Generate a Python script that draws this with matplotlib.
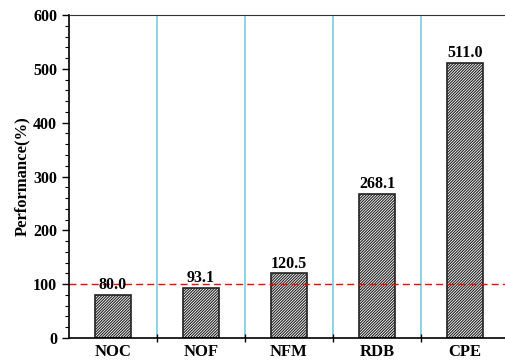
import numpy as np
import matplotlib.pyplot as plt
from matplotlib.ticker import MultipleLocator, FixedLocator

# データ
categories = ['NOC', 'NOF', 'NFM', 'RDB', 'CPE']
performance = [80.0, 93.1, 120.5, 268.1, 511.0]
baseline = 100

plt.rcParams['font.family'] = ['Liberation Serif', 'DejaVu Serif']
plt.rcParams['font.weight'] = 'bold'
plt.rcParams['hatch.linewidth'] = 0.8

fig = plt.figure(figsize=(5.05, 3.61), dpi=100)
ax = fig.add_axes([0.1366, 0.0637, 0.8714, 0.8947])

x = np.arange(len(categories))
bars = ax.bar(x, performance, width=0.41, color='white', edgecolor='#222222',
              hatch='////////////', linewidth=1.2)

# 値ラベル
for xi, v in zip(x, performance):
    ax.text(xi, v + 3, '%.1f' % v, ha='center', va='bottom',
            fontsize=11.5, fontweight='bold')

# 区切り線
for b in x[:-1] + 0.5:
    ax.axvline(b, color='#66ccdd', linewidth=1.1, zorder=0)

# 基準線
ax.axhline(baseline, color='red', linestyle=(0, (5, 3)), linewidth=1.0)

ax.set_xlim(-0.5, len(categories) - 0.5)
ax.set_ylim(0, 600)
ax.set_xticks(x)
ax.set_xticklabels(categories, fontsize=12, fontweight='bold')
ax.xaxis.set_minor_locator(FixedLocator(x[:-1] + 0.5))
ax.tick_params(axis='x', which='major', length=0, pad=4)
ax.tick_params(axis='x', which='minor', length=6, direction='inout', width=1)

ax.yaxis.set_major_locator(MultipleLocator(100))
ax.yaxis.set_minor_locator(MultipleLocator(20))
ax.tick_params(axis='y', which='major', length=5, width=1, labelsize=11.5)
ax.tick_params(axis='y', which='minor', length=3, width=0.8)
for lab in ax.get_yticklabels():
    lab.set_fontweight('bold')

ax.set_ylabel('Performance(%)', fontsize=12, fontweight='bold', labelpad=2)

for s in ['left', 'bottom']:
    ax.spines[s].set_linewidth(1.2)
ax.spines['top'].set_color('#333333')
ax.spines['right'].set_visible(False)

fig.savefig('out.png', dpi=100)
